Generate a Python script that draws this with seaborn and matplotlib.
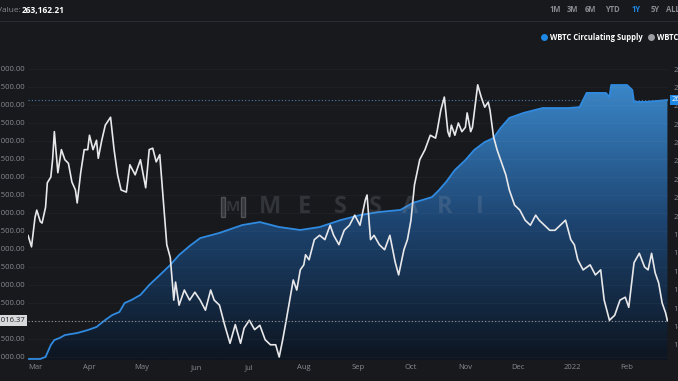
import numpy as np
import pandas as pd
import seaborn as sns
import matplotlib.pyplot as plt
import matplotlib.dates as mdates
import matplotlib.transforms as mtransforms
from matplotlib.colors import LinearSegmentedColormap
from matplotlib.ticker import FuncFormatter, MultipleLocator

# WBTC price (USD)
price_dates = [
    '2021-02-25', '2021-02-27',
    '2021-03-01', '2021-03-02', '2021-03-04', '2021-03-05', '2021-03-07', '2021-03-08', '2021-03-10', '2021-03-11',
    '2021-03-12', '2021-03-14', '2021-03-16', '2021-03-18', '2021-03-20', '2021-03-22', '2021-03-24', '2021-03-25',
    '2021-03-27', '2021-03-29', '2021-03-31',
    '2021-04-01', '2021-04-03', '2021-04-05', '2021-04-06', '2021-04-08', '2021-04-10', '2021-04-13', '2021-04-15',
    '2021-04-17', '2021-04-19', '2021-04-22', '2021-04-24', '2021-04-27', '2021-04-30',
    '2021-05-03', '2021-05-05', '2021-05-07', '2021-05-09', '2021-05-11', '2021-05-13', '2021-05-15', '2021-05-17',
    '2021-05-19', '2021-05-20', '2021-05-22', '2021-05-25', '2021-05-28', '2021-05-31',
    '2021-06-03', '2021-06-06', '2021-06-09', '2021-06-11', '2021-06-14', '2021-06-17', '2021-06-20', '2021-06-23',
    '2021-06-26', '2021-06-28',
    '2021-07-01', '2021-07-04', '2021-07-07', '2021-07-10', '2021-07-13', '2021-07-16', '2021-07-18', '2021-07-20',
    '2021-07-22', '2021-07-24', '2021-07-26', '2021-07-28', '2021-07-30',
    '2021-08-01', '2021-08-02', '2021-08-04', '2021-08-07', '2021-08-10', '2021-08-13', '2021-08-16', '2021-08-18',
    '2021-08-21', '2021-08-24', '2021-08-27', '2021-08-30',
    '2021-09-02', '2021-09-05', '2021-09-06', '2021-09-08', '2021-09-10', '2021-09-13', '2021-09-16', '2021-09-19',
    '2021-09-22', '2021-09-24', '2021-09-27', '2021-09-29',
    '2021-10-01', '2021-10-03', '2021-10-06', '2021-10-09', '2021-10-12', '2021-10-15', '2021-10-16', '2021-10-18',
    '2021-10-20', '2021-10-22', '2021-10-23', '2021-10-24', '2021-10-26', '2021-10-28', '2021-10-30',
    '2021-11-01', '2021-11-02', '2021-11-04', '2021-11-05', '2021-11-08', '2021-11-10', '2021-11-12', '2021-11-14',
    '2021-11-15', '2021-11-17', '2021-11-19', '2021-11-22', '2021-11-24', '2021-11-26', '2021-11-29',
    '2021-12-02', '2021-12-05', '2021-12-08', '2021-12-11', '2021-12-13', '2021-12-16', '2021-12-19', '2021-12-22',
    '2021-12-25', '2021-12-28', '2021-12-31',
    '2022-01-02', '2022-01-04', '2022-01-07', '2022-01-11', '2022-01-14', '2022-01-17', '2022-01-19', '2022-01-22',
    '2022-01-25', '2022-01-28', '2022-01-31',
    '2022-02-02', '2022-02-04', '2022-02-05', '2022-02-08', '2022-02-11', '2022-02-13', '2022-02-15', '2022-02-17',
    '2022-02-19', '2022-02-21', '2022-02-23', '2022-02-24',
]
price_values = [
    46900, 45300,
    49400, 50400, 48800, 48600, 50800, 54200, 55000, 57400,
    61300, 55600, 58800, 57400, 56900, 54300, 53200, 51400,
    55600, 58800, 58800,
    60800, 58800, 60100, 57600, 60100, 62200, 63300, 58800,
    55300, 53200, 52900, 56700, 55300, 57400,
    53500, 58800, 59000, 57100, 58100, 51800, 45600, 43800,
    37900, 40400, 37200, 39300, 37900, 39000,
    37900, 36500, 39300, 37900, 37200, 34400, 31900, 34500,
    31900, 34000,
    35100, 33800, 34400, 32400, 31700, 31700, 30000, 32400,
    35100, 37900, 40700, 39300, 42100,
    42800, 44200, 43500, 46300, 46900, 46300, 48300, 46900,
    45600, 47600, 48300, 49700,
    48300, 51800, 52500, 46300, 46900, 45600, 44900, 46900,
    43200, 41400, 44900, 46300,
    49000, 53900, 57400, 58800, 60800, 60400, 61500, 64300,
    66100, 61300, 60600, 62200, 60800, 62500, 61300,
    61900, 63900, 61300, 61900, 67800, 66100, 64700, 65400,
    64300, 60600, 58800, 56700, 55300, 53200, 51100,
    50400, 49000, 48300, 49700, 49000, 48300, 47600, 47600,
    48300, 49000, 46300,
    45600, 43500, 42100, 42800, 41400, 42100, 37900, 35100,
    35800, 37900, 38300,
    36900, 41100, 43100, 44400, 42500, 42100, 44400, 41700,
    40300, 37500, 36100, 35016.37,
]

# WBTC circulating supply (BTC)
supply_dates = [
    '2021-02-25', '2021-03-04', '2021-03-07', '2021-03-10', '2021-03-12', '2021-03-15', '2021-03-18', '2021-03-25',
    '2021-03-31', '2021-04-05', '2021-04-10', '2021-04-14', '2021-04-18', '2021-04-21', '2021-04-25', '2021-04-30',
    '2021-05-05', '2021-05-11', '2021-05-17', '2021-05-22', '2021-05-28', '2021-06-03', '2021-06-14', '2021-06-27',
    '2021-07-07', '2021-07-18', '2021-07-30', '2021-08-10', '2021-08-22', '2021-09-02', '2021-09-13', '2021-09-25',
    '2021-10-02', '2021-10-13', '2021-10-17', '2021-10-21', '2021-10-26', '2021-11-01', '2021-11-06', '2021-11-12',
    '2021-11-17', '2021-11-21', '2021-11-26', '2021-12-04', '2021-12-15', '2021-12-30', '2022-01-05', '2022-01-09',
    '2022-01-20', '2022-01-22', '2022-01-23', '2022-02-01', '2022-02-04', '2022-02-05', '2022-02-12', '2022-02-24',
]
supply_values = [
    122400, 122400, 123500, 130000, 132700, 133800, 135400, 136500,
    138100, 139800, 143600, 146300, 147900, 152800, 154500, 157200,
    162600, 168000, 173500, 178900, 183800, 188100, 190900, 195200,
    196800, 194100, 192500, 194100, 197900, 200600, 202300, 203400,
    207200, 210400, 214200, 218600, 225100, 230500, 236000, 240300,
    242500, 247900, 253400, 256100, 258800, 258800, 259300, 267000,
    267000, 264800, 271300, 271300, 268600, 262100, 262100, 263162.21,
]

month_labels = ['Mar', 'Apr', 'May', 'Jun', 'Jul', 'Aug', 'Sep', 'Oct', 'Nov', 'Dec', '2022', 'Feb']
range_buttons = ['1M', '3M', '6M', 'YTD', '1Y', '5Y', 'ALL']
last_price = 35016.37
last_supply = 263162.21

price = pd.DataFrame({'date': pd.to_datetime(price_dates), 'value': price_values})
supply = pd.DataFrame({'date': pd.to_datetime(supply_dates), 'value': supply_values})

BG = '#18191d'
GREY = '#878a91'
BLUE = '#2f8ae0'
WM = '#9aa1ae'

sns.set_theme(style='dark', rc={'figure.facecolor': BG, 'axes.facecolor': BG,
                                'axes.edgecolor': BG, 'text.color': 'white'})
plt.rcParams['font.family'] = ['Open Sans', 'DejaVu Sans']

W, H = 678, 381
fig = plt.figure(figsize=(W / 100, H / 100), dpi=100)
ax = fig.add_axes([28 / W, 21 / H, 640 / W, 308 / H])
ax2 = ax.twinx()

xmin = pd.Timestamp('2021-02-25')
xmax = pd.Timestamp('2022-02-24 08:00')

# supply area with a vertical gradient
s_lo, s_hi = 121841, 289240
poly = ax.fill_between(supply['date'], supply['value'], s_lo, facecolor='none', edgecolor='none')
cmap = LinearSegmentedColormap.from_list('wbtc', ['#0d1520', '#1d4470', '#3a86c8'])
grad = np.linspace(0, 1, 256).reshape(-1, 1)
im = ax.imshow(grad, extent=[mdates.date2num(xmin), mdates.date2num(xmax), s_lo, max(supply_values)],
               aspect='auto', origin='lower', cmap=cmap, zorder=1)
im.set_clip_path(poly.get_paths()[0], transform=ax.transData)
sns.lineplot(data=supply, x='date', y='value', ax=ax, color=BLUE, linewidth=1.3, zorder=2)
ax.axhline(last_supply, color='#4d7fb0', linewidth=0.8, linestyle=(0, (1, 2)), zorder=2)

# watermark
for i, ch in enumerate('MESSARI'):
    fig.text((270 + i * 35) / W, 1 - 207 / H, ch, fontsize=17, fontweight='bold',
             color=WM, alpha=0.2, ha='center', va='center')
for bx in (221, 241):
    fig.patches.append(plt.Rectangle((bx / W, 1 - 217 / H), 4 / W, 20 / H, transform=fig.transFigure,
                                     facecolor=WM, alpha=0.2))
fig.text(233 / W, 1 - 207 / H, 'M', fontsize=11, fontweight='bold', color=WM, alpha=0.2,
         ha='center', va='center')

# price line
sns.lineplot(data=price, x='date', y='value', ax=ax2, color='#e8e8ea', linewidth=1.2)
ax2.axhline(last_price, color='#9a9a9a', linewidth=0.8, linestyle=(0, (1, 2)))

ax.set_xlim(xmin, xmax)
ax.set_ylim(s_lo, s_hi)
ax2.set_ylim(29583, 72361)

for a in (ax, ax2):
    a.set_xlabel('')
    a.set_ylabel('')
    a.tick_params(length=0, labelsize=5.5, labelcolor=GREY)
    for sp in a.spines.values():
        sp.set_visible(False)

ax.yaxis.tick_right()
ax.yaxis.set_major_locator(MultipleLocator(10000))
ax.yaxis.set_major_formatter(FuncFormatter(lambda v, p: f'{v:,.2f}'))
ax.tick_params(axis='y', pad=4)
ax2.yaxis.tick_left()
ax2.yaxis.set_major_locator(MultipleLocator(2500))
ax2.yaxis.set_major_formatter(FuncFormatter(lambda v, p: f'{v:,.2f}'))
ax2.tick_params(axis='y', pad=2)
ax2.grid(axis='y', color='white', alpha=0.035, linewidth=0.6)
ax.grid(False)

ax.set_xticks(pd.date_range('2021-03-01', '2022-02-01', freq='MS'))
ax.set_xticklabels(month_labels)
ax.tick_params(axis='x', pad=3)

# last value tags
tl = mtransforms.blended_transform_factory(ax2.transAxes, ax2.transData)
ax2.text(-0.004, last_price, f'{last_price:,.2f}', transform=tl, ha='right', va='center', fontsize=5.5,
         color='#202226', bbox=dict(boxstyle='square,pad=0.25', facecolor='#d9d9dc', edgecolor='none'),
         clip_on=False, zorder=5)
tr = mtransforms.blended_transform_factory(ax.transAxes, ax.transData)
ax.text(1.006, last_supply, f'{last_supply:,.2f}', transform=tr, ha='left', va='center', fontsize=5.5,
        color='white', bbox=dict(boxstyle='square,pad=0.25', facecolor='#1e88e5', edgecolor='none'),
        clip_on=False, zorder=5)

# header
fig.text(-3 / W, 1 - 10 / H, 'Value:', fontsize=6, color=GREY, va='center')
fig.text(22 / W, 1 - 10 / H, f'{last_supply:,.2f}', fontsize=6, color='white', fontweight='bold', va='center')
fig.add_artist(plt.Line2D([0, 1], [1 - 21 / H, 1 - 21 / H], color='#2a2b31', linewidth=0.8))
for lbl, bx in zip(range_buttons, [555, 572, 590, 612, 636, 655, 673]):
    fig.text(bx / W, 1 - 10 / H, lbl, fontsize=5.5, fontweight='bold', va='center', ha='center',
             color='#1e88e5' if lbl == '1Y' else GREY)

# legend
fig.add_artist(plt.Line2D([544 / W], [1 - 37 / H], marker='o', markersize=5, linestyle='none',
                          markerfacecolor='#1e88e5', markeredgecolor='none'))
fig.text(550 / W, 1 - 37 / H, 'WBTC Circulating Supply', fontsize=5.5, fontweight='bold', color='white',
         va='center')
fig.add_artist(plt.Line2D([651 / W], [1 - 37 / H], marker='o', markersize=5, linestyle='none',
                          markerfacecolor='#9d9fa5', markeredgecolor='none'))
fig.text(657 / W, 1 - 37 / H, 'WBTC Price', fontsize=5.5, fontweight='bold', color='white', va='center')

fig.savefig('out.png', dpi=100, facecolor=BG)
